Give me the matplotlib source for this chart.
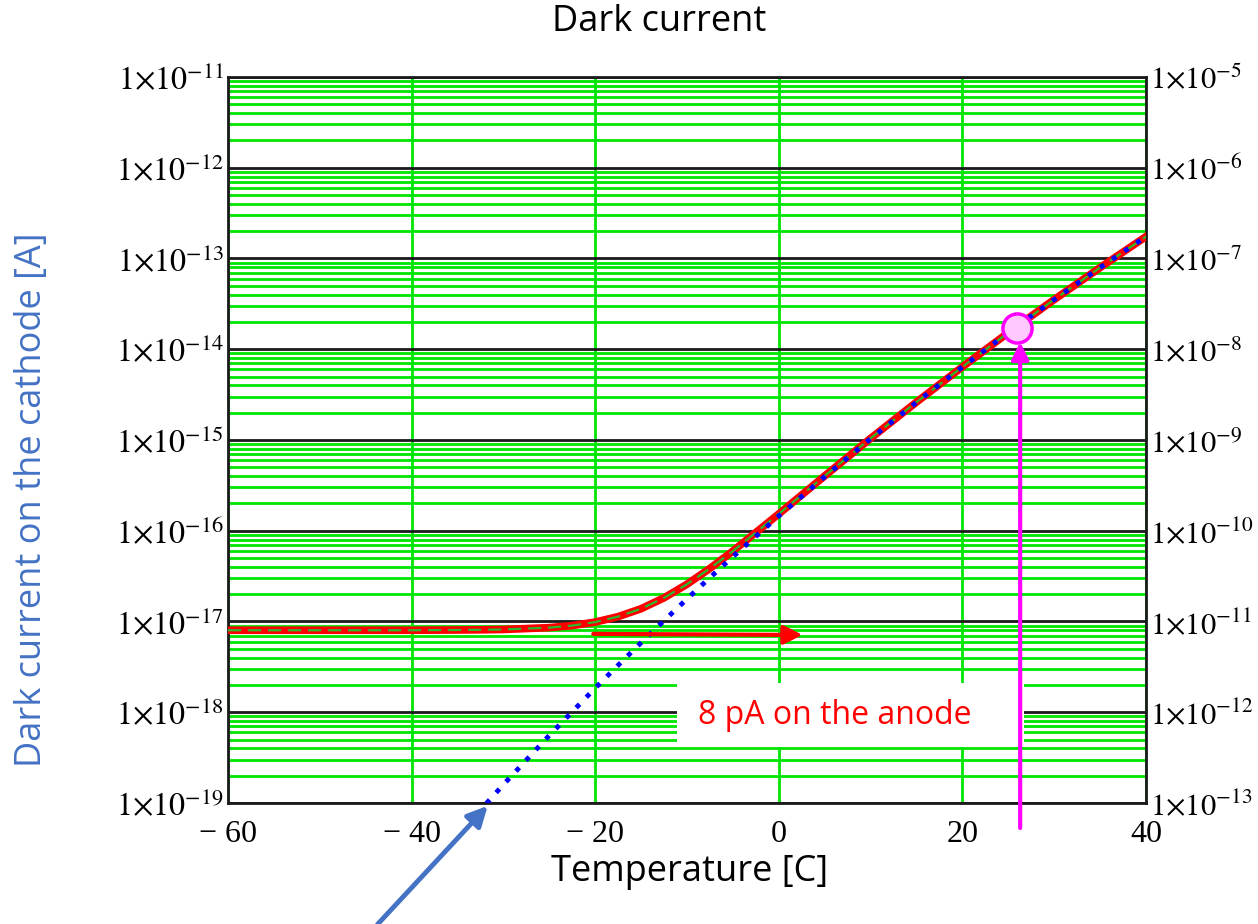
import numpy as np
import matplotlib.pyplot as plt
from matplotlib.patches import Rectangle
from matplotlib.ticker import LogLocator, NullFormatter

plt.rcParams['mathtext.fontset'] = 'stix'

# temperature [C] and cathode dark current [A]
temp = [-60, -55, -50, -45, -40, -35, -32, -30, -25, -22.5, -20, -17.5, -15,
        -12.5, -10, -7.5, -5, 0, 5, 10, 15, 20, 25, 30, 35, 40]
cathode_total = [8.0e-18, 8.0e-18, 8.0e-18, 8.0e-18, 8.0e-18, 8.05e-18, 8.1e-18,
                 8.16e-18, 8.55e-18, 9.0e-18, 9.84e-18, 1.13e-17, 1.38e-17,
                 1.82e-17, 2.57e-17, 3.84e-17, 5.96e-17, 1.53e-16, 4.01e-16,
                 1.04e-15, 2.61e-15, 6.38e-15, 1.52e-14, 3.52e-14, 7.92e-14, 1.74e-13]
cathode_fit = [np.nan, np.nan, np.nan, np.nan, np.nan, 4.3e-20, 9.5e-20,
               1.59e-19, 5.54e-19, 1.01e-18, 1.84e-18, 3.29e-18, 5.83e-18,
               1.02e-17, 1.77e-17, 3.04e-17, 5.16e-17, 1.45e-16, 3.93e-16,
               1.03e-15, 2.60e-15, 6.37e-15, 1.52e-14, 3.52e-14, 7.92e-14, 1.74e-13]

marker_temp = [26.0]
marker_current = [1.7e-14]

x_ticks = [-60, -40, -20, 0, 20, 40]
x_labels = ['\u2212 60', '\u2212 40', '\u2212 20', '0', '20', '40']
left_decades = list(range(-19, -10))
right_decades = list(range(-13, -4))


def dec_label(d):
    return r'$1{\times}10^{-%d}$' % (-d)


fig = plt.figure(figsize=(12.58, 9.24), dpi=100)
ax = fig.add_axes([0.1812, 0.1310, 0.7297, 0.7857])
ax.set_yscale('log')
ax.set_xlim(-60, 40)
ax.set_ylim(1e-19, 1e-11)

ax.set_xticks(x_ticks)
ax.set_xticklabels(x_labels, family='Liberation Serif', fontsize=23)
ax.set_yticks([10.0 ** d for d in left_decades])
ax.set_yticklabels([dec_label(d) for d in left_decades], fontsize=23)
ax.yaxis.set_minor_locator(LogLocator(base=10, subs=range(2, 10), numticks=30))
ax.yaxis.set_minor_formatter(NullFormatter())
ax.tick_params(which='both', length=0)
ax.tick_params(axis='x', pad=12)
ax.tick_params(axis='y', pad=3)

ax.set_axisbelow(True)
ax.grid(True, which='minor', axis='y', color='#00e600', lw=2)
ax.grid(True, which='major', axis='y', color='#1a1a1a', lw=2)
ax.grid(True, which='major', axis='x', color='#00e600', lw=2)
for s in ax.spines.values():
    s.set_linewidth(2)
    s.set_color('#1a1a1a')

ax2 = ax.twinx()
ax2.set_yscale('log')
ax2.set_ylim(1e-13, 1e-5)
ax2.set_yticks([10.0 ** d for d in right_decades])
ax2.set_yticklabels([dec_label(d) for d in right_decades], fontsize=22)
ax2.yaxis.set_minor_formatter(NullFormatter())
ax2.tick_params(which='both', length=0, pad=3)
for s in ax2.spines.values():
    s.set_visible(False)

# white label box covering the grid
ax.add_patch(Rectangle((0.489, 0.077), 0.378, 0.088, transform=ax.transAxes,
                       facecolor='white', edgecolor='none', zorder=1.5))
ax.text(0.661, 0.121, '8 pA on the anode', transform=ax.transAxes, color='red',
        fontsize=23, family='Open Sans', ha='center', va='center', zorder=1.6)

ax.plot(temp, cathode_total, color='red', lw=5.5, zorder=3)
ax.plot(temp, cathode_total, color='#2cb82c', lw=1.6, ls=(0, (6, 3)), zorder=4)
ax.plot(temp, cathode_fit, color='blue', lw=3.5, ls=(0, (1, 2)), zorder=5)

ax.annotate('', xy=(2.6, 7.1e-18), xytext=(-20.2, 7.3e-18),
            arrowprops=dict(arrowstyle='-|>', color='red', lw=3,
                            mutation_scale=28, shrinkA=0, shrinkB=0), zorder=6)
ax.annotate('', xy=(26.3, 1.2e-14), xytext=(26.3, 5.3e-20),
            arrowprops=dict(arrowstyle='-|>', color='#ff00ff', lw=3,
                            mutation_scale=26, shrinkA=0, shrinkB=0),
            annotation_clip=False, zorder=6)
ax.plot(marker_temp, marker_current, marker='o', ms=21, mfc='#ffc8ff',
        mec='#ff00ff', mew=2.5, ls='none', zorder=7, clip_on=False)
ax.annotate('', xy=(-31.7, 9.3e-20), xytext=(-43.7, 4.6e-21),
            arrowprops=dict(arrowstyle='-|>', color='#4472C4', lw=3.5,
                            mutation_scale=30, shrinkA=0, shrinkB=0),
            annotation_clip=False, zorder=6)

fig.text(0.524, 0.976, 'Dark current', ha='center', va='center', fontsize=26,
         family='Open Sans')
fig.text(0.5485, 0.0563, 'Temperature [C]', ha='center', va='center',
         fontsize=26, family='Open Sans')
fig.text(0.0254, 0.459, 'Dark current on the cathode [A]', ha='center',
         va='center', rotation=90, fontsize=26, family='Open Sans', color='#4472C4')

fig.savefig('out.png', dpi=100)
